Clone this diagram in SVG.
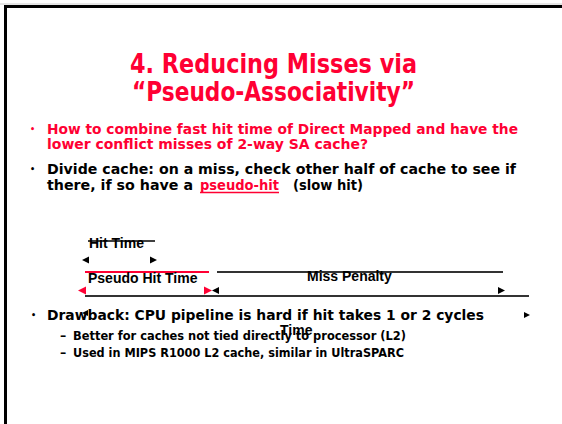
<svg xmlns="http://www.w3.org/2000/svg" width="562" height="424" viewBox="0 0 562 424">
<style>
.title{font-family:"DejaVu Sans","Liberation Sans",sans-serif;font-weight:bold;font-size:27px;fill:#ff0033}
.b1{font-family:"DejaVu Sans","Liberation Sans",sans-serif;font-weight:bold;font-size:14.5px}
.dot{font-family:"DejaVu Sans","Liberation Sans",sans-serif;font-weight:bold;font-size:8px}
.b2{font-family:"DejaVu Sans","Liberation Sans",sans-serif;font-weight:bold;font-size:12.5px;fill:#000}
.red{fill:#ff0033}
.blk{fill:#000}
.lbl{font-family:"Liberation Sans",Arial,sans-serif;font-weight:bold;font-size:14px;fill:#000}
.ln{stroke:#333;stroke-width:2;fill:none}
.rln{stroke:#ff0033;stroke-width:2;fill:none}
</style>
<rect x="0" y="0" width="562" height="424" fill="#fff"/>
<g id="frame">
<line x1="0" y1="4" x2="562" y2="4" stroke="#ccc" stroke-width="1"/>
<rect x="4" y="5" width="558" height="3" fill="#000"/>
<rect x="4" y="5" width="3" height="419" fill="#000"/>
</g>
<g id="title">
<text class="title" x="130" y="73" textLength="287" lengthAdjust="spacingAndGlyphs">4. Reducing Misses via</text>
<text class="title" x="132" y="101" textLength="283" lengthAdjust="spacingAndGlyphs">“Pseudo-Associativity”</text>
</g>
<g id="bullets">
<text class="dot red" x="30" y="132">•</text>
<text class="b1 red" x="47" y="134" textLength="471" lengthAdjust="spacingAndGlyphs">How to combine fast hit time of Direct Mapped and have the</text>
<text class="b1 red" x="47" y="149" textLength="321" lengthAdjust="spacingAndGlyphs">lower conflict misses of 2-way SA cache?</text>
<text class="dot blk" x="30" y="172">•</text>
<text class="b1 blk" x="47" y="174" textLength="469" lengthAdjust="spacingAndGlyphs">Divide cache: on a miss, check other half of cache to see if</text>
<text class="b1 blk" x="47" y="190" textLength="146" lengthAdjust="spacingAndGlyphs">there, if so have a</text>
<text class="b1 red" x="200" y="190" textLength="79" lengthAdjust="spacingAndGlyphs">pseudo-hit</text>
<line x1="200" y1="192.5" x2="279" y2="192.5" stroke="#ff0033" stroke-width="1.3"/>
<text class="b1 blk" x="293" y="190" textLength="70" lengthAdjust="spacingAndGlyphs">(slow hit)</text>
<text class="dot blk" x="31" y="318">•</text>
<text class="b1 blk" x="47" y="320" textLength="437" lengthAdjust="spacingAndGlyphs">Drawback: CPU pipeline is hard if hit takes 1 or 2 cycles</text>
<text class="b2" x="60" y="340">–</text>
<text class="b2" x="73" y="340" textLength="333" lengthAdjust="spacingAndGlyphs">Better for caches not tied directly to processor (L2)</text>
<text class="b2" x="60" y="357">–</text>
<text class="b2" x="73" y="357" textLength="331" lengthAdjust="spacingAndGlyphs">Used in MIPS R1000 L2 cache, similar in UltraSPARC</text>
</g>
<g id="hit-time">
<text class="lbl" x="89" y="248">Hit Time</text>
<line x1="88" y1="241" x2="155" y2="241" stroke="#000" stroke-width="1.5"/>
<polygon class="blk" points="82,260 89,256.5 89,263.5"/>
<polygon class="blk" points="157,260 150,256.5 150,263.5"/>
</g>
<g id="pseudo-hit-time">
<line class="rln" x1="85" y1="272" x2="209" y2="272"/>
<text class="lbl" x="88" y="283">Pseudo Hit Time</text>
<polygon class="red" points="78,290.5 86,286.5 86,294.5"/>
<polygon class="red" points="212,290.5 204,286.5 204,294.5"/>
</g>
<g id="miss-penalty">
<line class="ln" x1="217" y1="272" x2="503" y2="272"/>
<text class="lbl" x="307" y="281">Miss Penalty</text>
<polygon class="blk" points="212,290.5 219,287 219,294"/>
<polygon class="blk" points="505,290.5 498,287 498,294"/>
</g>
<g id="connectors">
<line class="ln" x1="85" y1="296" x2="529" y2="296"/>
<polygon class="blk" points="82,313 88,310 88,316"/>
<polygon class="blk" points="530,315 524,312 524,318"/>
</g>
<g id="time">
<text class="lbl" x="280" y="335">Time</text>
</g>
</svg>
